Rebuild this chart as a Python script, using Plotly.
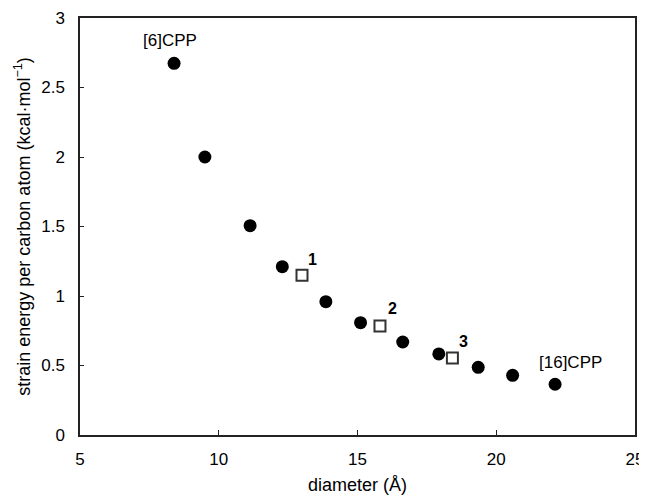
import plotly.graph_objects as go

# CPP series (filled circles)
cpp_diameter = [8.39, 9.50, 11.13, 12.29, 13.86, 15.11, 16.63, 17.93, 19.35, 20.59, 22.12]
cpp_strain = [2.674, 2.00, 1.506, 1.211, 0.959, 0.808, 0.669, 0.583, 0.487, 0.429, 0.365]

# Compounds 1-3 (open squares)
cmpd_diameter = [13.00, 15.81, 18.42]
cmpd_strain = [1.15, 0.784, 0.554]
cmpd_labels = ["1", "2", "3"]

x_ticks = [5, 10, 15, 20, 25]
y_ticks = [0, 0.5, 1, 1.5, 2, 2.5, 3]
y_tick_text = ["0", "0.5", "1", "1.5", "2", "2.5", "3"]

FONT = "Liberation Sans, Arial, Helvetica, sans-serif"

fig = go.Figure()
fig.add_trace(go.Scatter(
    x=cpp_diameter, y=cpp_strain, mode="markers",
    marker=dict(symbol="circle", size=13, color="black"),
    showlegend=False, cliponaxis=False,
))
fig.add_trace(go.Scatter(
    x=cmpd_diameter, y=cmpd_strain, mode="markers",
    marker=dict(symbol="square", size=11, color="white",
                line=dict(color="#333333", width=2)),
    showlegend=False, cliponaxis=False,
))

annotations = []
annotations.append(dict(x=cpp_diameter[0], y=cpp_strain[0], text="[6]CPP",
                        xshift=-4, yshift=22.5, showarrow=False,
                        font=dict(size=17, color="black", family=FONT)))
annotations.append(dict(x=cpp_diameter[-1], y=cpp_strain[-1], text="[16]CPP",
                        xshift=15, yshift=21.5, showarrow=False,
                        font=dict(size=17, color="black", family=FONT)))
shifts = [(10, 16), (13, 18), (11, 16)]
for xv, yv, lab, (dx, dy) in zip(cmpd_diameter, cmpd_strain, cmpd_labels, shifts):
    annotations.append(dict(x=xv, y=yv, text="<b>" + lab + "</b>",
                            xshift=dx, yshift=dy, showarrow=False,
                            font=dict(size=16, color="black", family=FONT)))

# The page body has an 8px margin, so the figure is sized to fit the window.
fig.update_layout(
    width=639, height=491,
    margin=dict(l=72, r=12, t=10, b=64),
    paper_bgcolor="white", plot_bgcolor="white",
    font=dict(family=FONT, size=17, color="black"),
    annotations=annotations,
    xaxis=dict(
        range=[5, 25], tickvals=x_ticks, ticktext=[str(v) for v in x_ticks],
        showgrid=False, zeroline=False, automargin=False,
        showline=True, linecolor="#222222", linewidth=1.5, mirror=True,
        ticks="inside", ticklen=5, tickwidth=1, tickcolor="#222222",
        ticklabelstandoff=8, ticklabeloverflow="allow",
        title=dict(text="diameter (Å)", font=dict(size=18), standoff=10),
        tickfont=dict(size=17),
    ),
    yaxis=dict(
        range=[0, 3], tickvals=y_ticks, ticktext=y_tick_text,
        showgrid=False, zeroline=False, automargin=False,
        showline=True, linecolor="#222222", linewidth=1.5, mirror=True,
        ticks="inside", ticklen=4, tickwidth=1, tickcolor="#222222",
        ticklabelstandoff=10, ticklabeloverflow="allow",
        title=dict(text="strain energy per carbon atom (kcal·mol<sup>−1</sup>)",
                   font=dict(size=18), standoff=6),
        tickfont=dict(size=17),
    ),
)

fig.write_html("out.html")
